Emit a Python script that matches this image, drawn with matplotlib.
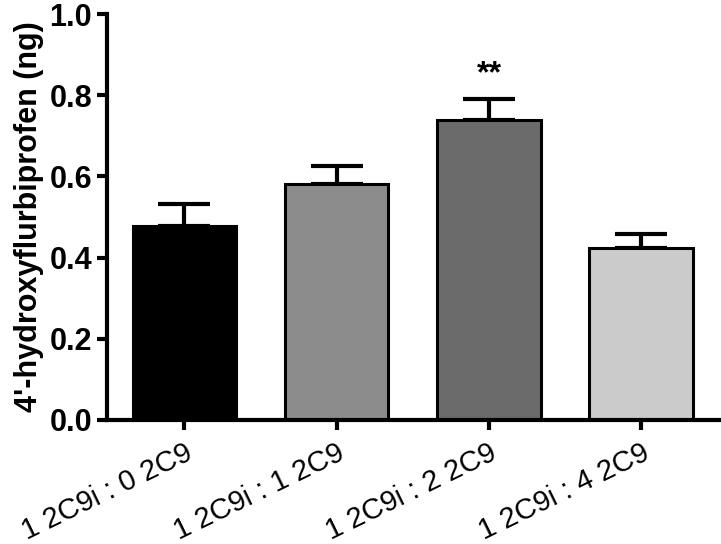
import matplotlib.pyplot as plt
import numpy as np

plt.rcParams['font.family'] = ['Liberation Sans', 'DejaVu Sans']

# --- Data ---
categories = ['1 2C9i : 0 2C9', '1 2C9i : 1 2C9', '1 2C9i : 2 2C9', '1 2C9i : 4 2C9']
means = [0.478, 0.581, 0.739, 0.424]
errors = [0.055, 0.046, 0.052, 0.035]
colors = ['#000000', '#8c8c8c', '#6b6b6b', '#cbcbcb']
y_ticks = [0.0, 0.2, 0.4, 0.6, 0.8, 1.0]
stars = ['', '', '**', '']

fig = plt.figure(figsize=(7.21, 5.44), dpi=100)
ax = fig.add_axes([0.148, 0.228, 0.849, 0.746])

x = np.arange(len(categories))
ax.bar(x, means, width=0.68, color=colors, edgecolor='black', linewidth=2.2, zorder=2)
ax.errorbar(x, means, yerr=[np.zeros(len(errors)), errors], fmt='none',
            ecolor='black', elinewidth=3, capsize=18.5, capthick=3, zorder=1)

# significance marks
for xi, m, e, s in zip(x, means, errors, stars):
    if s:
        ax.text(xi, m + e + 0.025, s, ha='center', va='bottom', fontsize=23, fontweight='bold')

ax.set_xlim(-0.51, 3.51)
ax.set_ylim(0, 1.0)
ax.set_yticks(y_ticks)
ax.set_yticklabels([f'{t:.1f}' for t in y_ticks], fontsize=22, fontweight='bold')
ax.set_xticks(x)
ax.set_xticklabels(categories, rotation=26, ha='right', rotation_mode='anchor', fontsize=21)
ax.set_ylabel("4'-hydroxyflurbiprofen (ng)", fontsize=22, fontweight='bold', labelpad=4)

for side in ['top', 'right']:
    ax.spines[side].set_visible(False)
for side in ['left', 'bottom']:
    ax.spines[side].set_linewidth(3)
ax.tick_params(axis='both', width=3, length=7.5, direction='out')
ax.tick_params(axis='y', pad=3)
ax.tick_params(axis='x', pad=6)

fig.savefig('out.png', dpi=100)
